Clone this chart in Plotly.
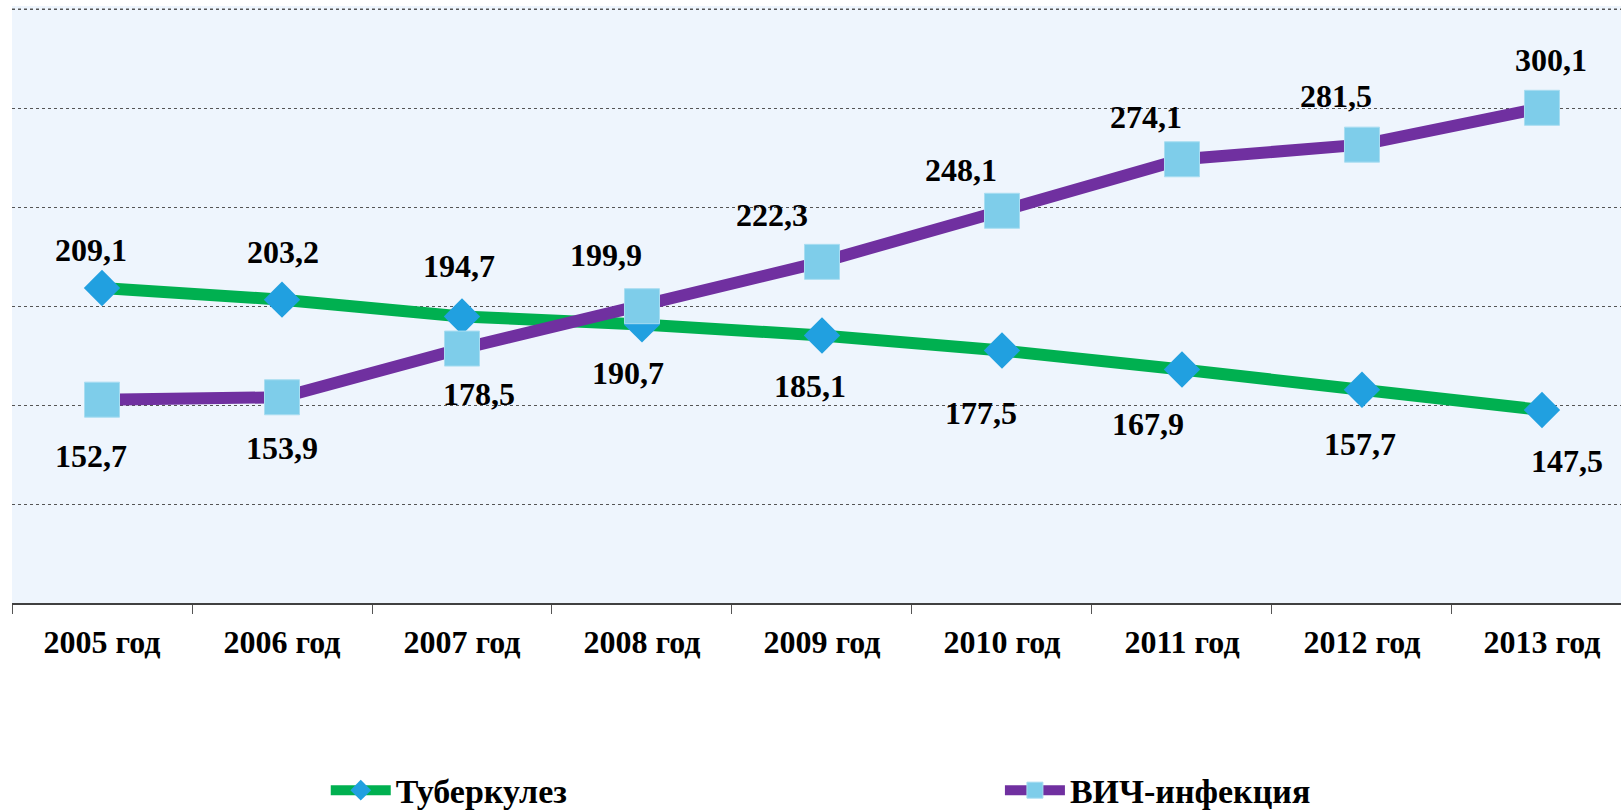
import plotly.graph_objects as go

years = ["2005 год", "2006 год", "2007 год", "2008 год", "2009 год",
         "2010 год", "2011 год", "2012 год", "2013 год"]
tb = [209.1, 203.2, 194.7, 190.7, 185.1, 177.5, 167.9, 157.7, 147.5]
hiv = [152.7, 153.9, 178.5, 199.9, 222.3, 248.1, 274.1, 281.5, 300.1]
series_names = ["Туберкулез", "ВИЧ-инфекция"]
y_min, y_max, y_step = 50, 350, 50

# label offsets in px (dx, dy; dy positive = downward)
tb_off = [(-11, -38), (1, -48), (-3, -51), (-14, 49), (-12, 50),
          (-21, 62), (-34, 54), (-2, 54), (25, 51)]
hiv_off = [(-11, 56), (0, 51), (17, 45), (-36, -51), (-50, -47),
           (-41, -41), (-36, -42), (-26, -49), (9, -48)]

FONT = "Liberation Serif"

fig = go.Figure()
fig.add_trace(go.Scatter(
    x=years, y=tb, name=f"<b>{series_names[0]}</b>", mode="lines+markers",
    line=dict(color="#00B050", width=12),
    marker=dict(symbol="diamond", size=28, color="#21A0E0"),
    hoverinfo="skip", legend="legend"))
fig.add_trace(go.Scatter(
    x=years, y=hiv, name=f"<b>{series_names[1]}</b>", mode="lines+markers",
    line=dict(color="#7030A0", width=12),
    marker=dict(symbol="square", size=35, color="#7ECDEA",
                line=dict(color="#A8DDF1", width=1)),
    hoverinfo="skip", legend="legend2"))

def fmt(v):
    return f"{v:.1f}".replace(".", ",")

annotations = []
for vals, offs in ((tb, tb_off), (hiv, hiv_off)):
    for x, v, (dx, dy) in zip(years, vals, offs):
        annotations.append(dict(
            x=x, y=v, xref="x", yref="y", text=f"<b>{fmt(v)}</b>",
            showarrow=False, xshift=dx, yshift=-dy,
            font=dict(family=FONT, size=32, color="black")))

legend_common = dict(orientation="h", xanchor="left", yanchor="middle",
                     yref="container", y=0.024, itemwidth=60,
                     font=dict(family=FONT, size=34, color="black"),
                     bgcolor="rgba(0,0,0,0)")

fig.update_layout(
    width=1621, height=810,
    margin=dict(l=12, r=0, t=6, b=207, autoexpand=False),
    paper_bgcolor="white", plot_bgcolor="#EEF5FD",
    showlegend=True,
    legend=dict(x=0.195, **legend_common),
    legend2=dict(x=0.614, **legend_common),
    annotations=annotations,
    shapes=[dict(type="line", xref="paper", x0=0, x1=1, yref="y",
                 y0=y_max, y1=y_max, layer="below",
                 line=dict(color="#555555", width=1, dash="dot"))],
    xaxis=dict(type="category", range=[-0.5, 8.439],
               tickson="boundaries", ticks="outside", ticklen=9,
               tickcolor="#555555", tickwidth=1, ticklabelstandoff=10,
               tickvals=years, ticktext=[f"<b>{y}</b>" for y in years],
               showline=True, linecolor="#404040", linewidth=1.5,
               showgrid=False,
               tickfont=dict(family=FONT, size=32, color="black")),
    yaxis=dict(range=[y_min, y_max + 1.52], dtick=y_step, tick0=y_min,
               showticklabels=False,
               showgrid=True, gridcolor="#555555", griddash="dot", gridwidth=1,
               zeroline=False, showline=False),
)

fig.write_html("out.html", config={"displayModeBar": False},
               post_script="document.body.style.margin='0px';")
